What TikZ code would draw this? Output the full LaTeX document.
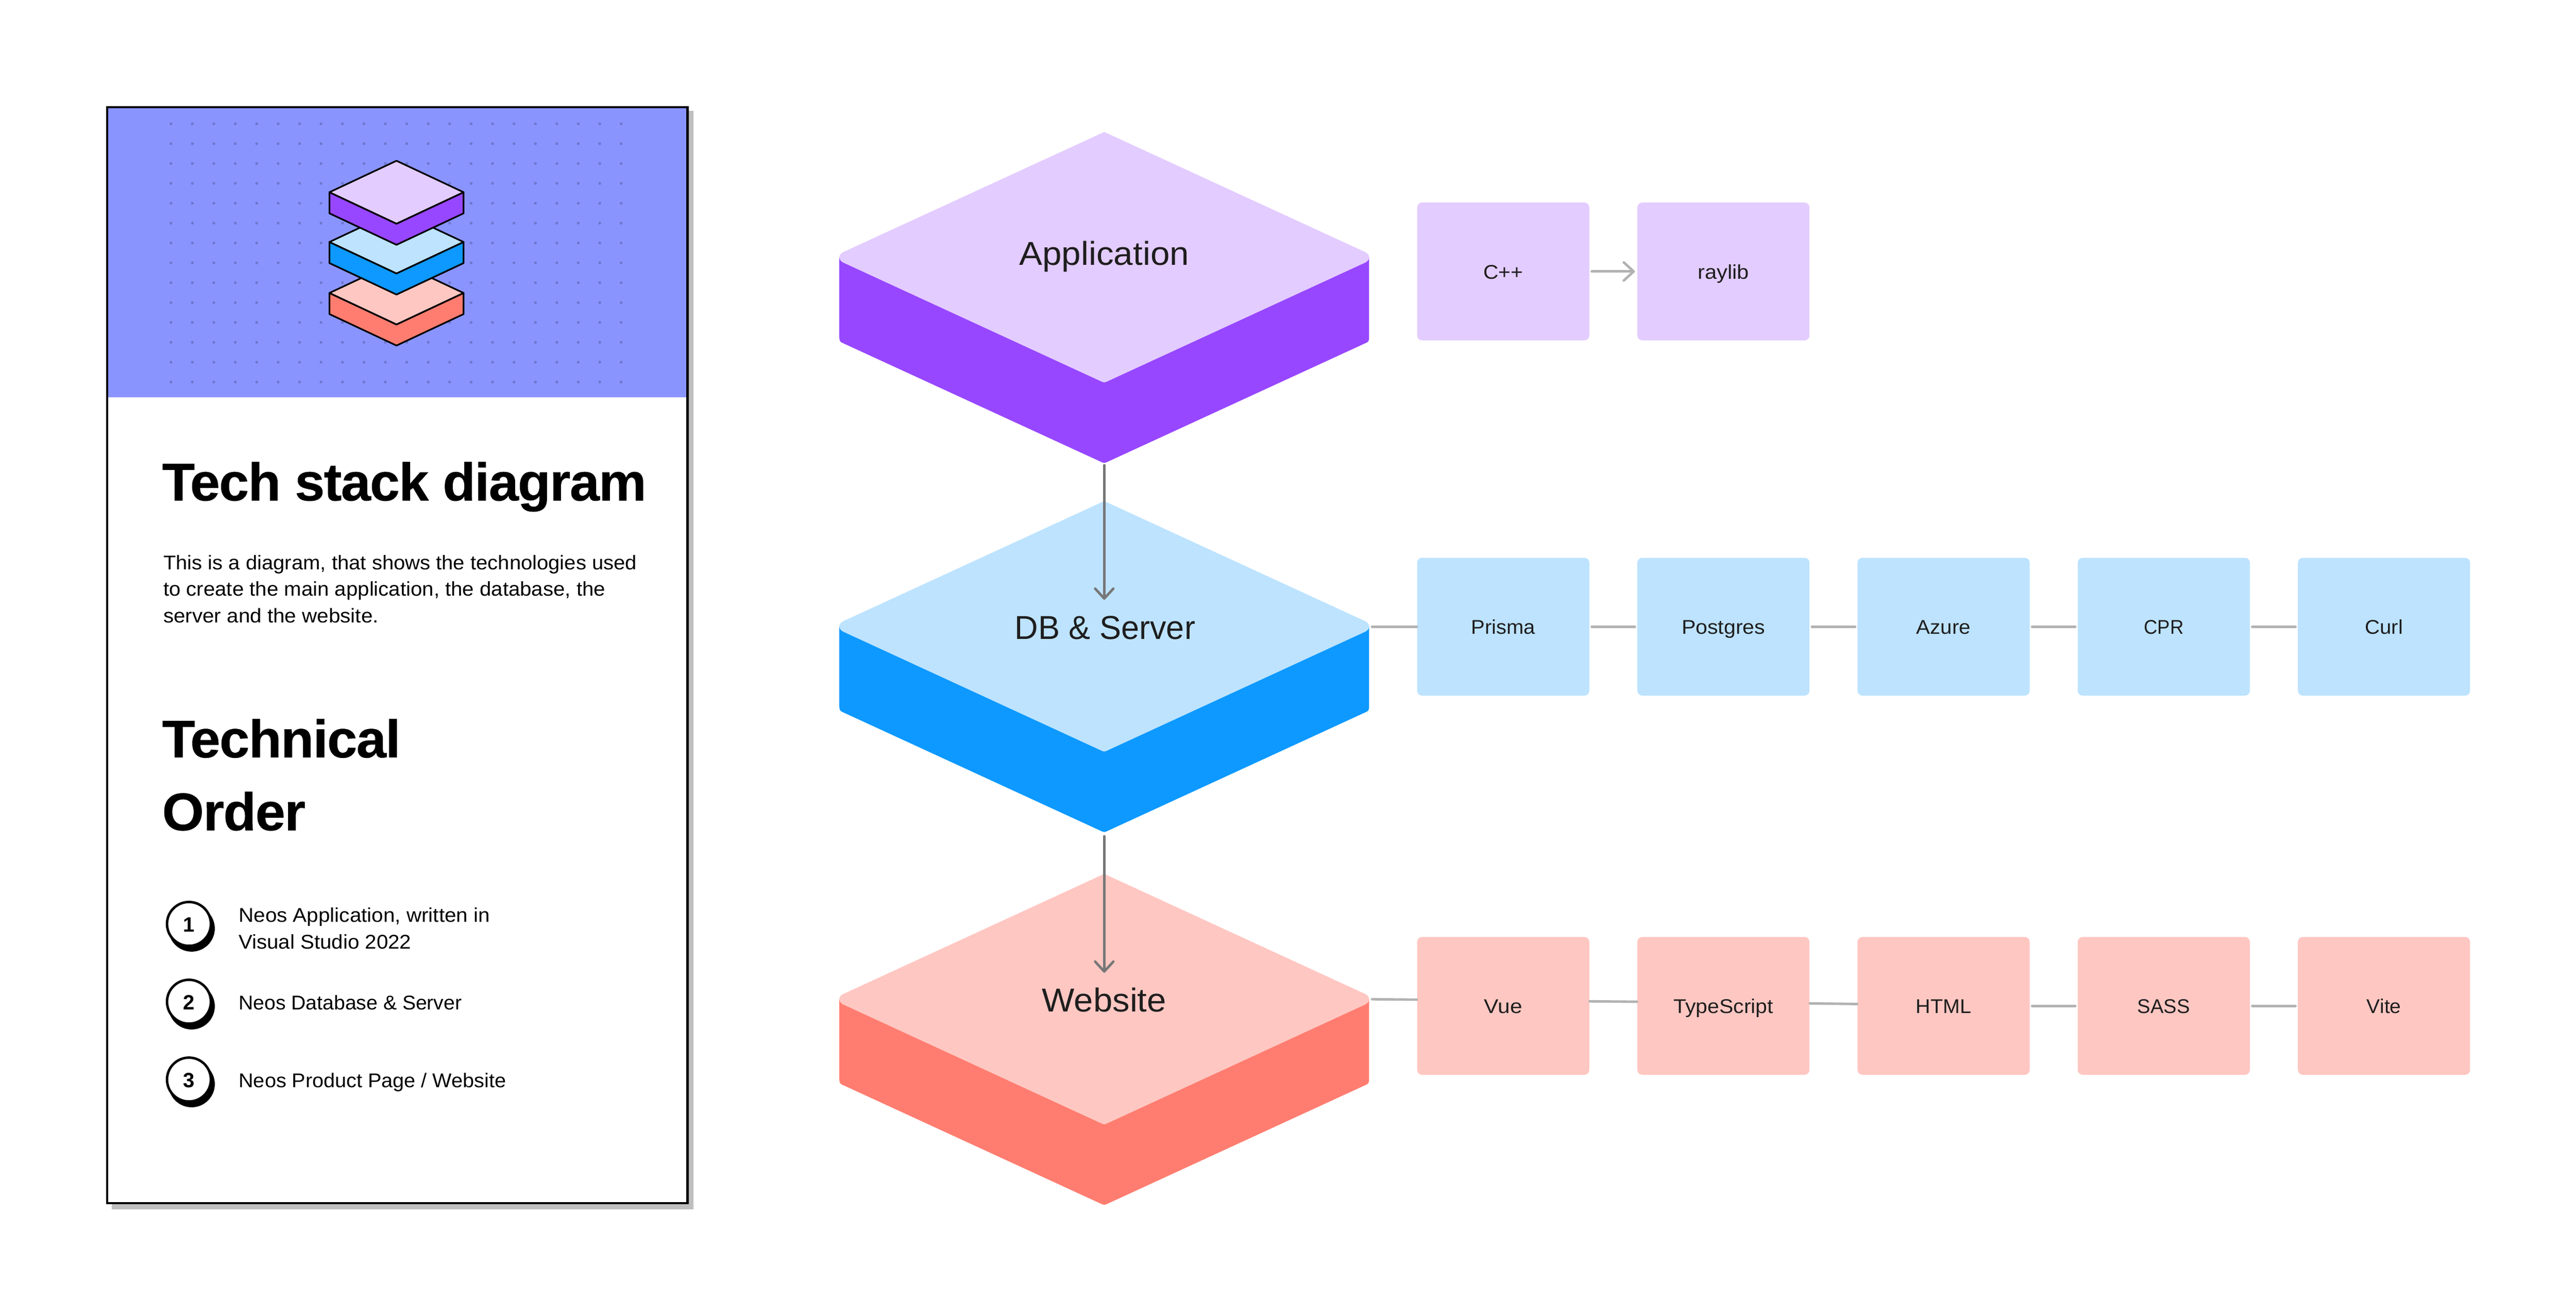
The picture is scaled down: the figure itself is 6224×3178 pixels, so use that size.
\documentclass[tikz,border=0pt]{standalone}
\usepackage{fontspec}
\usepackage{graphicx}
\setmainfont{Liberation Sans}
\newfontfamily\heavyfont[FakeBold=0.5,LetterSpace=-1.5]{Liberation Sans Bold}
\usetikzlibrary{arrows.meta,calc}
\definecolor{hdr}{HTML}{8A94FF}
\definecolor{dotc}{HTML}{6E78CE}
\definecolor{shad}{HTML}{BFBFBF}
\definecolor{plight}{HTML}{E3CCFF}
\definecolor{pdark}{HTML}{9747FF}
\definecolor{blight}{HTML}{BDE3FF}
\definecolor{bdark}{HTML}{0D99FF}
\definecolor{rlight}{HTML}{FFC7C2}
\definecolor{rdark}{HTML}{FF7D70}
\definecolor{ink}{HTML}{1E1E1E}
\definecolor{conn}{HTML}{B2B2B2}
\definecolor{connd}{HTML}{777777}
\newlength\fitlen
% fit text to a target width given in image pixels
\newcommand{\fitw}[2]{\settowidth{\fitlen}{#2}\pgfmathsetmacro{\fitr}{#1*0.25/\fitlen}\scalebox{\fitr}[1]{#2}}
\newcommand{\isoblock}[3]{%
  \begin{scope}[shift={(2668,#1)}]
    \fill[#3] (-640,0) -- (-640,193) .. controls (-640,199) and (-639,203) .. (-635,205.5)
      -- (-5,495.3) .. controls (-2,497) and (2,497) .. (5,495.3)
      -- (635,205.5) .. controls (639,203) and (640,199) .. (640,193) -- (640,0) -- cycle;
    \fill[#2] (-632,-12) -- (-4,-301) .. controls (-1.5,-303) and (1.5,-303) .. (4,-301)
      -- (632,-12) .. controls (638,-8) and (640,-4) .. (640,0) .. controls (640,4) and (638,8) .. (632,12)
      -- (5,300.8) .. controls (2,302.6) and (-2,302.6) .. (-5,300.8)
      -- (-632,12) .. controls (-638,8) and (-640,4) .. (-640,0) .. controls (-640,-4) and (-638,-8) .. (-632,-12) -- cycle;
  \end{scope}}
\newcommand{\icolayer}[3]{%
  \begin{scope}[shift={(958,#1)}]
    \filldraw[icoline,fill=#3] (-162,0) -- (-162,51) -- (0,127) -- (162,51) -- (162,0) -- (0,76) -- cycle;
    \filldraw[icoline,fill=#2] (-162,0) -- (0,-76) -- (162,0) -- (0,76) -- cycle;
  \end{scope}}
\tikzset{
  x=0.25pt,y=-0.25pt,
  icoline/.style={draw=black,line width=1pt,line join=round},
  techbox/.style={rectangle,rounded corners=3pt,minimum width=104pt,minimum height=83.25pt,inner sep=0pt,
    text=ink,text height=9pt,text depth=0pt,font=\fontsize{12}{14}\selectfont},
  blocklabel/.style={anchor=base,inner sep=0pt,text=ink,font=\fontsize{20}{24}\selectfont},
  bodytext/.style={anchor=base west,inner sep=0pt,text=black,font=\fontsize{12}{14}\selectfont},
  headtext/.style={anchor=base west,inner sep=0pt,text=black,font=\fontsize{32}{38}\selectfont\heavyfont},
  numring/.style={circle,draw=black,fill=white,line width=1.5pt,minimum size=26.5pt,inner sep=0pt},
  numtext/.style={anchor=base,inner sep=0pt,text=black,font=\fontsize{12.5}{15}\selectfont\bfseries},
  flat/.style={draw=conn,line width=1.5pt,line cap=round},
  drop/.style={draw=connd,line width=1.5pt,line cap=round,
    -{Straight Barb[length=6pt,width=11pt,round]}},
  lead/.style={draw=conn,line width=1.5pt,line cap=round,
    -{Straight Barb[length=6pt,width=11pt,round]}},
}
\begin{document}
\begin{tikzpicture}
\useasboundingbox (0,0) rectangle (6224,3178);
\fill[white] (0,0) rectangle (6224,3178);

% --- left panel ---
\fill[shad] (270,268) rectangle (1676,2922);
\fill[white] (259,259) rectangle (1661,2906.5);
\fill[hdr] (259,259) rectangle (1661,960);
\foreach \c in {0,...,21}{\foreach \r in {0,...,13}{
  \fill[dotc] ({413+51.8*\c},{299+48*\r}) circle[radius=3.5];}}
\draw[black,line width=1.5pt] (259,259) rectangle (1661,2906.5);

\icolayer{707.8}{rlight}{rdark}
\icolayer{584.6}{blight}{bdark}
\icolayer{464.4}{plight}{pdark}

\node[headtext] (title) at (391,1209) {\fitw{1170}{Tech stack diagram}};
\node[bodytext] (b1) at (394,1376) {\fitw{1144}{This is a diagram, that shows the technologies used}};
\node[bodytext] (b2) at (394,1440) {\fitw{1068}{to create the main application, the database, the}};
\node[bodytext] (b3) at (394,1504) {\fitw{520}{server and the website.}};
\node[headtext] (to1) at (391,1829.7) {\fitw{576}{Technical}};
\node[headtext] (to2) at (391,2005.7) {\fitw{346}{Order}};

\foreach \y/\n in {2232/1,2420/2,2608/3}{
  \fill[black] (463,\y+11) circle[radius=56];
  \node[numring] (c\n) at (456.5,\y) {};
  \node[numtext] (n\n) at (457,\y+19.5) {\n};
}
\node[bodytext] (o1a) at (576,2228) {\fitw{607}{Neos Application, written in}};
\node[bodytext] (o1b) at (576,2292) {\fitw{417}{Visual Studio 2022}};
\node[bodytext] (o2) at (576,2439) {\fitw{539}{Neos Database \& Server}};
\node[bodytext] (o3) at (576,2627) {\fitw{646}{Neos Product Page / Website}};

% --- iso blocks ---
\isoblock{621.7}{plight}{pdark}
\isoblock{1513.4}{blight}{bdark}
\isoblock{2414}{rlight}{rdark}
\node[blocklabel] (app) at (2668,640.7) {\fitw{410}{Application}};
\node[blocklabel] (dbs) at (2670,1544.6) {\fitw{436}{DB \& Server}};
\node[blocklabel] (web) at (2668,2444.7) {\fitw{300}{Website}};

\coordinate (appOut) at (2668,1124);
\coordinate (dbIn) at (2668,1449);
\coordinate (dbOut) at (2668,2020.5);
\coordinate (webIn) at (2668,2350);
\coordinate (dbEast) at (3315,1514);
\coordinate (webEast) at (3315,2414);
\draw[drop] (appOut) -- (dbIn);
\draw[drop] (dbOut) -- (webIn);

% --- technology boxes ---
\node[techbox,fill=plight] (cpp) at (3632,655.8) {\fitw{96}{C++}};
\node[techbox,fill=plight] (ray) at (4164,655.8) {\fitw{124}{raylib}};
\draw[lead] ([xshift=1.25pt]cpp.east) -- ([xshift=-1.25pt]ray.west);

\foreach \x/\nm/\w/\txt in {3632/prisma/155/Prisma,4164/postgres/202/Postgres,4696/azure/131/Azure,5228/cpr/96/CPR,5760/curl/92/Curl}{
  \node[techbox,fill=blight] (\nm) at (\x,1514) {\fitw{\w}{\txt}};
}
\foreach \x/\nm/\w/\txt in {3632/vue/92/Vue,4164/ts/241/TypeScript,4696/html/134/HTML,5228/sass/127/SASS,5760/vite/83/Vite}{
  \node[techbox,fill=rlight] (\nm) at (\x,2430) {\fitw{\w}{\txt}};
}
\draw[flat] (dbEast) -- (prisma.west);
\draw[flat] ([xshift=1.25pt]prisma.east) -- ([xshift=-1.25pt]postgres.west);
\draw[flat] ([xshift=1.25pt]postgres.east) -- ([xshift=-1.25pt]azure.west);
\draw[flat] ([xshift=1.25pt]azure.east) -- ([xshift=-1.25pt]cpr.west);
\draw[flat] ([xshift=1.25pt]cpr.east) -- ([xshift=-1.25pt]curl.west);
\draw[flat] (webEast) -- ([shift={(0,-15)}]vue.west);
\draw[flat] ([shift={(0,-11)}]vue.east) -- ([shift={(0,-10)}]ts.west);
\draw[flat] ([shift={(0,-6)}]ts.east) -- ([shift={(0,-4.5)}]html.west);
\draw[flat] ([xshift=1.25pt]html.east) -- ([xshift=-1.25pt]sass.west);
\draw[flat] ([xshift=1.25pt]sass.east) -- ([xshift=-1.25pt]vite.west);
\end{tikzpicture}
\end{document}
